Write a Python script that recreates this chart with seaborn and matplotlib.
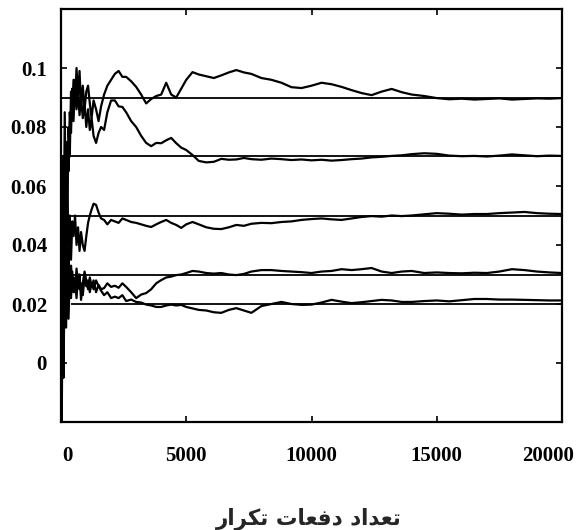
import numpy as np
import pandas as pd
import matplotlib
matplotlib.use('Agg')
import matplotlib.pyplot as plt
import matplotlib.transforms as mtransforms
import seaborn as sns

# --------------------------------------------------
# Data
# --------------------------------------------------

# iteration grid shared by all five runs
iters = [0, 30, 60, 100, 150, 200, 250, 300, 350, 400,
         450, 500, 560, 620, 680, 740, 800, 870, 940, 1010,
         1080, 1150, 1220, 1300, 1400, 1500, 1600, 1720, 1850, 2000,
         2150, 2300, 2450, 2600, 2800, 3000, 3200, 3400, 3600, 3800,
         4000, 4200, 4400, 4600, 4800, 5000, 5250, 5500, 5800, 6100,
         6400, 6700, 7000, 7300, 7600, 8000, 8400, 8800, 9200, 9600,
         10000, 10400, 10800, 11200, 11600, 12000, 12400, 12800, 13200, 13600,
         14000, 14500, 15000, 15500, 16000, 16500, 17000, 17500, 18000, 18500,
         19000, 19500, 20000]

run_a = [-0.02, 0.03, -0.005, 0.05, 0.02, 0.07, 0.05, 0.08, 0.07, 0.092,
         0.085, 0.096, 0.088, 0.1, 0.09, 0.099, 0.087, 0.094, 0.086, 0.092,
         0.094, 0.088, 0.083, 0.089, 0.086, 0.082, 0.087, 0.091, 0.094, 0.096,
         0.098, 0.099, 0.097, 0.097, 0.0955, 0.0936, 0.091, 0.088, 0.0895, 0.0905,
         0.091, 0.095, 0.091, 0.090, 0.093, 0.096, 0.0986, 0.0978, 0.0972, 0.0966,
         0.0975, 0.0985, 0.0993, 0.0985, 0.098, 0.0966, 0.096, 0.095, 0.0935, 0.0932,
         0.094, 0.095, 0.0945, 0.0936, 0.0925, 0.0915, 0.0908, 0.092, 0.0929, 0.0918,
         0.091, 0.0905, 0.0898, 0.0894, 0.0896, 0.0893, 0.0895, 0.0897, 0.0893, 0.0895,
         0.0897, 0.0896, 0.0898]

run_b = [0.0, -0.015, 0.04, 0.01, 0.06, 0.045, 0.075, 0.065, 0.085, 0.078,
         0.093, 0.082, 0.096, 0.086, 0.092, 0.084, 0.09, 0.083, 0.088, 0.08,
         0.086, 0.079, 0.083, 0.077, 0.0746, 0.078, 0.080, 0.079, 0.085, 0.089,
         0.089, 0.087, 0.0868, 0.085, 0.082, 0.080, 0.077, 0.0746, 0.0735, 0.0746,
         0.0745, 0.0755, 0.0763, 0.0745, 0.073, 0.0722, 0.0705, 0.0685, 0.068, 0.0682,
         0.0692, 0.0689, 0.069, 0.0695, 0.0691, 0.0689, 0.0693, 0.0691, 0.0688, 0.069,
         0.0687, 0.0689, 0.0686, 0.0688, 0.0691, 0.0693, 0.0697, 0.0699, 0.0702, 0.0704,
         0.0708, 0.0711, 0.0709, 0.0703, 0.0701, 0.0702, 0.07, 0.0703, 0.0707, 0.0704,
         0.0701, 0.0703, 0.0702]

run_c = [0.06, 0.02, 0.07, 0.03, 0.085, 0.04, 0.065, 0.03, 0.05, 0.035,
         0.048, 0.043, 0.05, 0.04, 0.046, 0.038, 0.0444, 0.04, 0.038, 0.043,
         0.0475, 0.05, 0.052, 0.054, 0.0536, 0.051, 0.049, 0.0485, 0.047, 0.0485,
         0.048, 0.0475, 0.049, 0.0485, 0.0478, 0.0475, 0.047, 0.0465, 0.0461, 0.047,
         0.0478, 0.0485, 0.0475, 0.0468, 0.0458, 0.047, 0.0478, 0.047, 0.046, 0.0455,
         0.0454, 0.046, 0.0468, 0.0465, 0.0472, 0.0475, 0.0474, 0.0478, 0.048, 0.0485,
         0.0488, 0.049, 0.0487, 0.0485, 0.049, 0.0495, 0.0498, 0.0496, 0.05, 0.0498,
         0.05, 0.0504, 0.0508, 0.0506, 0.0503, 0.0505, 0.0505, 0.0508, 0.051, 0.0512,
         0.0508, 0.0506, 0.0505]

run_d = [-0.01, 0.04, 0.01, 0.05, 0.015, 0.045, 0.02, 0.038, 0.025, 0.033,
         0.027, 0.029, 0.024, 0.032, 0.026, 0.03, 0.0214, 0.027, 0.031, 0.028,
         0.025, 0.029, 0.026, 0.028, 0.024, 0.0265, 0.025, 0.0254, 0.027, 0.0258,
         0.0262, 0.0255, 0.027, 0.0258, 0.024, 0.022, 0.0232, 0.0237, 0.025, 0.027,
         0.0281, 0.029, 0.0293, 0.0298, 0.03, 0.0305, 0.0312, 0.031, 0.0305, 0.0303,
         0.0305, 0.03, 0.0298, 0.0302, 0.031, 0.0315, 0.0315, 0.0312, 0.031, 0.0308,
         0.0305, 0.031, 0.0312, 0.0318, 0.0315, 0.0318, 0.0322, 0.031, 0.0305, 0.031,
         0.0312, 0.0305, 0.0307, 0.0305, 0.0304, 0.0306, 0.0305, 0.031, 0.0318, 0.0315,
         0.031, 0.0307, 0.0305]

run_e = [0.03, -0.02, 0.02, -0.005, 0.035, 0.012, 0.028, 0.015, 0.03, 0.022,
         0.031, 0.024, 0.028, 0.022, 0.03, 0.025, 0.027, 0.023, 0.029, 0.026,
         0.028, 0.024, 0.027, 0.025, 0.028, 0.026, 0.0245, 0.023, 0.024, 0.022,
         0.0225, 0.022, 0.023, 0.021, 0.0215, 0.0207, 0.0205, 0.0198, 0.0195, 0.019,
         0.019, 0.0195, 0.0198, 0.0195, 0.0197, 0.019, 0.0185, 0.018, 0.0178, 0.0172,
         0.017, 0.018, 0.0186, 0.0178, 0.017, 0.0193, 0.02, 0.0207, 0.02, 0.0197,
         0.0198, 0.0205, 0.0214, 0.0208, 0.0203, 0.0206, 0.021, 0.0214, 0.0212, 0.0207,
         0.0207, 0.021, 0.0212, 0.0209, 0.0213, 0.0217, 0.0217, 0.0215, 0.0215, 0.0214,
         0.0213, 0.0212, 0.0212]

# exact (target) values drawn as horizontal reference lines
targets = [0.09, 0.07, 0.05, 0.03, 0.02]
target_starts = [0, 0, 0, 400, 400]

y_ticks = [0, 0.02, 0.04, 0.06, 0.08, 0.1]
y_tick_labels = ['0', '0.02', '0.04', '0.06', '0.08', '0.1']
x_ticks = [0, 5000, 10000, 15000, 20000]
x_tick_labels = ['0', '5000', '10000', '15000', '20000']

# Persian label "تعداد دفعات تکرار", given in presentation forms in visual order
x_title = '\uFEAD\uFE8D\uFEAE\uFB91\uFE97 \uFE95\uFE8E\uFECC\uFED3\uFEA9 \uFEA9\uFE8D\uFEAA\uFECC\uFE97'

# --------------------------------------------------
# Plot
# --------------------------------------------------

sns.set_style('ticks')

df = pd.DataFrame({'iter': iters, 'a': run_a, 'b': run_b, 'c': run_c,
                   'd': run_d, 'e': run_e})
long_df = df.melt(id_vars='iter', var_name='run', value_name='value')

fig = plt.figure(figsize=(5.77, 5.30), dpi=100)
ax = fig.add_axes([61 / 577, 1 - 422 / 530, 501 / 577, 413 / 530])

# reference lines first so the runs sit on top
for t, s in zip(targets, target_starts):
    ax.hlines(t, s, 20000, color='black', lw=1.3)

sns.lineplot(data=long_df, x='iter', y='value', hue='run', units='run',
             estimator=None, palette=['black'] * 5, lw=1.6, legend=False, ax=ax)

ax.set_xlim(0, 20000)
ax.set_ylim(-0.02, 0.12)
ax.set_xticks(x_ticks)
ax.set_xticklabels(x_tick_labels)
ax.set_yticks(y_ticks)
ax.set_yticklabels(y_tick_labels)
ax.set_xlabel('')
ax.set_ylabel('')

ax.tick_params(direction='in', length=4, width=1.2, top=True, right=True,
               colors='black')
ax.tick_params(axis='x', pad=17)
ax.tick_params(axis='y', pad=10)

for lab in ax.get_xticklabels() + ax.get_yticklabels():
    lab.set_fontfamily('Liberation Serif')
    lab.set_fontweight('bold')
    lab.set_fontsize(15)

# nudge the end labels like in the scan
xt = ax.get_xticklabels()
xt[0].set_transform(xt[0].get_transform() + mtransforms.ScaledTranslation(6 / 100, 0, fig.dpi_scale_trans))
xt[-1].set_transform(xt[-1].get_transform() + mtransforms.ScaledTranslation(-14 / 100, 0, fig.dpi_scale_trans))

for side in ['top', 'right', 'bottom', 'left']:
    ax.spines[side].set_visible(True)
    ax.spines[side].set_linewidth(1.6)
    ax.spines[side].set_color('black')

fig.text(309 / 577, 1 - 519 / 530, x_title, ha='center', va='center',
         fontsize=15.5, fontweight='bold', family=['DejaVu Sans'])

fig.savefig('out.png', dpi=100, facecolor='white')
